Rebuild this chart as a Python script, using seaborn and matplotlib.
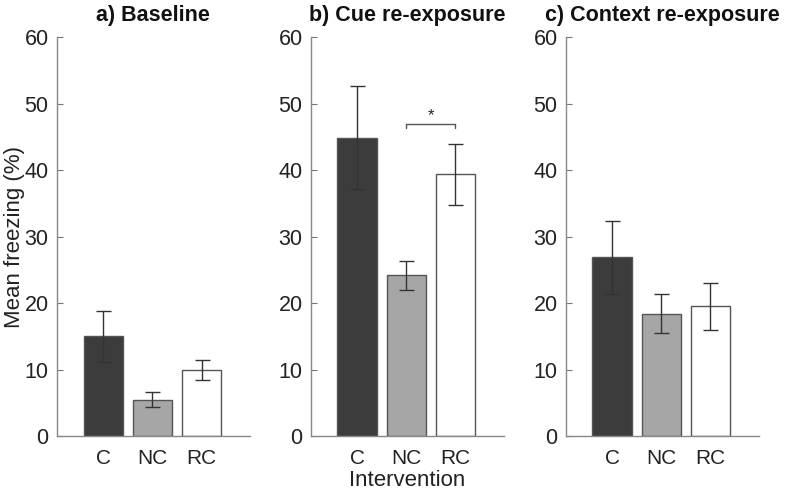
import matplotlib
matplotlib.use("Agg")
import matplotlib.pyplot as plt
import seaborn as sns
import pandas as pd
import numpy as np

groups = ["C", "NC", "RC"]
titles = ["a) Baseline", "b) Cue re-exposure", "c) Context re-exposure"]
means = [
    [15.0, 5.4, 10.0],
    [44.9, 24.2, 39.4],
    [26.9, 18.4, 19.5],
]
err_low = [
    [11.2, 4.3, 8.5],
    [37.1, 22.0, 34.8],
    [21.3, 15.5, 16.0],
]
err_high = [
    [18.8, 6.6, 11.4],
    [52.6, 26.4, 44.0],
    [32.4, 21.4, 23.0],
]
bar_colors = ["#3c3c3c", "#a6a6a6", "#ffffff"]
yticks = [0, 10, 20, 30, 40, 50, 60]

sns.set_theme(style="white")
plt.rcParams["font.family"] = ["Liberation Sans", "DejaVu Sans"]

fig = plt.figure(figsize=(7.87, 4.93), dpi=100)
lefts = [0.0724, 0.395, 0.719]
width = 0.245
bottom, height = 0.1156, 0.809

for i in range(3):
    ax = fig.add_axes([lefts[i], bottom, width, height])
    df = pd.DataFrame({"group": groups, "value": means[i]})
    sns.barplot(data=df, x="group", y="value", hue="group", palette=bar_colors,
                order=groups, hue_order=groups, legend=False, errorbar=None,
                width=0.8, edgecolor="#555555", linewidth=1.0, ax=ax)
    xs = np.arange(len(groups))
    m = np.array(means[i])
    lo = m - np.array(err_low[i])
    hi = np.array(err_high[i]) - m
    ax.errorbar(xs, m, yerr=[lo, hi], fmt="none", ecolor="#333333",
                elinewidth=1.0, capsize=5.4, capthick=1.0, zorder=5)
    ax.set_xlim(-0.94, 2.98)
    ax.set_ylim(0, 60)
    ax.set_yticks(yticks)
    ax.set_yticklabels([str(t) for t in yticks], fontsize=15.5, color="#222222")
    ax.tick_params(axis="y", direction="in", length=4, width=0.8, color="#777777", pad=6, left=True)
    ax.tick_params(axis="x", length=0, labelsize=15, labelcolor="#222222", pad=9)
    for s in ["top", "right"]:
        ax.spines[s].set_visible(False)
    for s in ["left", "bottom"]:
        ax.spines[s].set_color("#888888")
        ax.spines[s].set_linewidth(1.0)
    ax.set_title(titles[i], fontsize=15.5, fontweight="bold", color="#111111", pad=12)
    if i == 0:
        ax.set_ylabel("Mean freezing (%)", fontsize=16, color="#222222")
        ax.yaxis.set_label_coords(-0.168, 0.5)
    else:
        ax.set_ylabel("")
    ax.set_xlabel("Intervention" if i == 1 else "", fontsize=16, color="#222222", labelpad=2)
    if i == 1:
        yb = 46.9
        ax.plot([1, 1, 2, 2], [yb - 0.6, yb, yb, yb - 0.6], color="#555555", lw=1.0)
        ax.text(1.5, yb + 0.2, "*", ha="center", va="bottom", fontsize=12, color="#222222")

fig.savefig("out.png", dpi=100)
